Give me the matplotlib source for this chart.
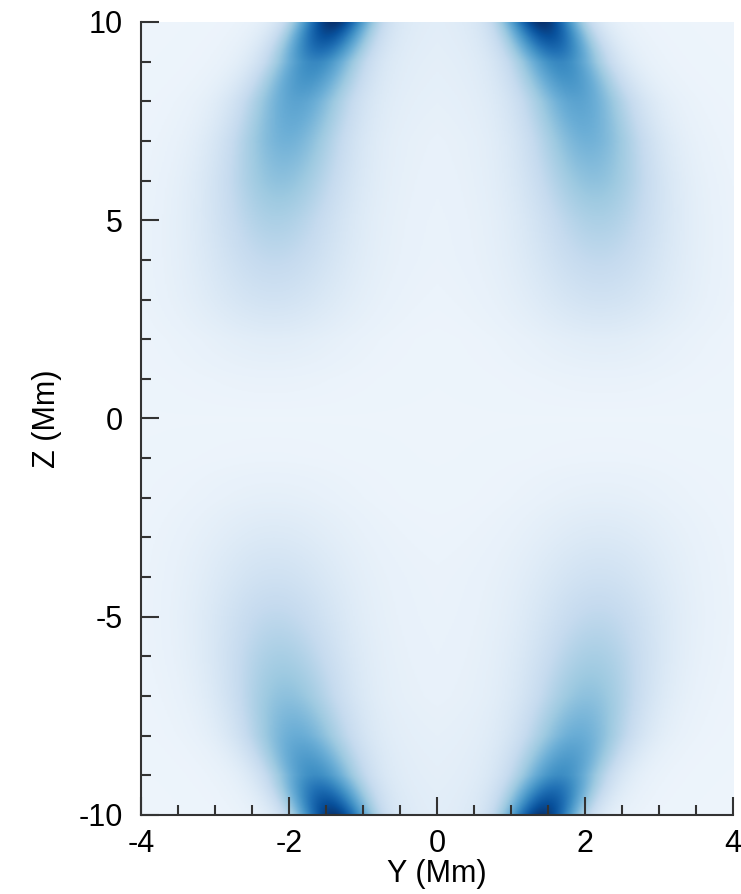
import numpy as np
import matplotlib
matplotlib.use("Agg")
import matplotlib.pyplot as plt

plt.rcParams["axes.unicode_minus"] = False

# leg profile, per |Z| (Mm)
z_abs = [0, 1, 2, 3, 4, 5, 6, 7, 8, 9, 10]
leg_center = [2.25, 2.25, 2.22, 2.22, 2.2, 2.18, 2.12, 2.04, 1.9, 1.66, 1.42]
leg_width = [0.8, 0.78, 0.75, 0.72, 0.68, 0.64, 0.6, 0.55, 0.5, 0.42, 0.34]
amp_top = [0.0, 0.02, 0.06, 0.14, 0.21, 0.28, 0.36, 0.43, 0.49, 0.6, 0.92]
amp_bottom = [0.0, 0.01, 0.04, 0.09, 0.15, 0.22, 0.29, 0.36, 0.45, 0.58, 0.9]
mid_amp = [0.0, 0.0, 0.0, 0.005, 0.01, 0.012, 0.015, 0.02, 0.03, 0.04, 0.05]
background = 0.05

y = np.linspace(-4, 4, 401)
z = np.linspace(-10, 10, 801)
Y, Z = np.meshgrid(y, z)
az = np.abs(Z)

c = np.interp(az, z_abs, leg_center)
w = np.interp(az, z_abs, leg_width)
a = np.where(Z >= 0, np.interp(az, z_abs, amp_top), np.interp(az, z_abs, amp_bottom))
m = np.interp(az, z_abs, mid_amp)

d = (np.abs(Y) - c) / w
core = np.exp(-0.5 * d**2)
halo = np.exp(-0.5 * (d / 1.7)**2)
field = background + a * (0.85 * core + 0.15 * halo) + m * np.exp(-0.5 * (Y / 1.1)**2)

fig = plt.figure(figsize=(7.41, 8.94), dpi=100)
ax = fig.add_axes([0.190, 0.0884, 0.799, 0.887])
ax.imshow(field, origin="lower", extent=[-4, 4, -10, 10], aspect="auto",
          cmap="Blues", vmin=0, vmax=1, interpolation="bilinear")

ax.set_xlim(-4, 4)
ax.set_ylim(-10, 10)
ax.set_xticks([-4, -2, 0, 2, 4])
ax.set_xticks(np.arange(-4, 4.01, 0.5), minor=True)
ax.set_yticks([-10, -5, 0, 5, 10])
ax.set_yticks(np.arange(-10, 10.01, 1), minor=True)

for s in ["top", "right"]:
    ax.spines[s].set_visible(False)
for s in ["left", "bottom"]:
    ax.spines[s].set_color("#333333")
    ax.spines[s].set_linewidth(1.5)

ax.tick_params(which="both", direction="in", color="#333333", width=1.5,
               labelsize=22)
ax.tick_params(axis="y", pad=13)
ax.tick_params(axis="x", pad=10)
ax.tick_params(which="major", length=13)
ax.tick_params(which="minor", length=7)
for lab in ax.get_xticklabels() + ax.get_yticklabels():
    lab.set_fontfamily("Liberation Sans")

ax.set_xlabel("Y (Mm)", fontsize=22, family="Liberation Sans", labelpad=0)
ax.set_ylabel("Z (Mm)", fontsize=22, family="Liberation Sans", labelpad=12)

fig.savefig("out.png", dpi=100)
